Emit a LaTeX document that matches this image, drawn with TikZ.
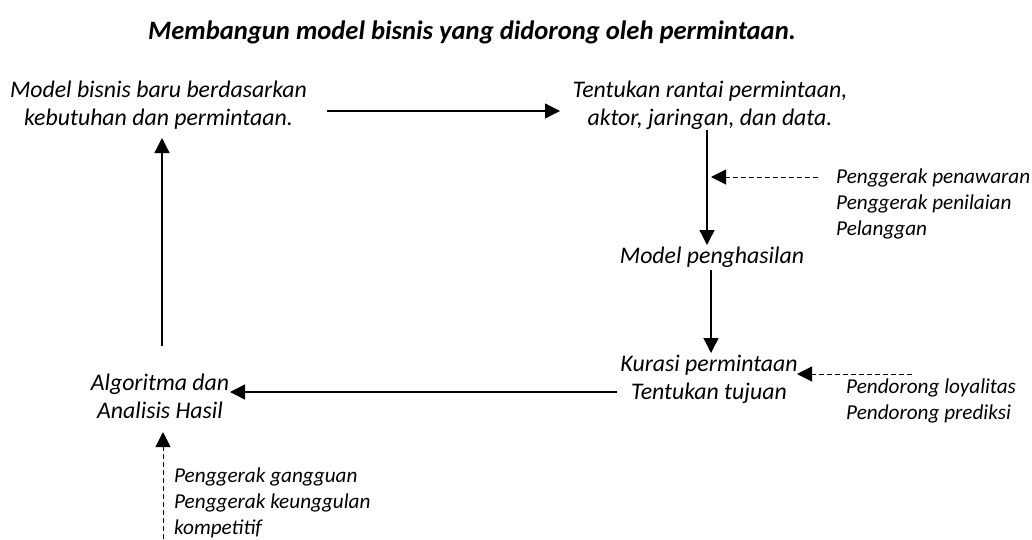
\documentclass[tikz,border=0pt]{standalone}
\usepackage{fontspec}
\setmainfont{Carlito}
\usetikzlibrary{arrows.meta,calc}
\begin{document}
\begin{tikzpicture}[x=1pt,y=-1pt,
  lbl/.style={font=\itshape\fontsize{23.8}{28}\selectfont, align=center, inner sep=0pt},
  drv/.style={font=\itshape\fontsize{21.2}{26}\selectfont, align=left, inner sep=0pt, anchor=west},
  flow/.style={-{Triangle[length=15pt,width=15pt]}, line width=1.3pt},
  feed/.style={-{Triangle[length=15pt,width=15pt]}, line width=1pt, dash pattern=on 5pt off 3pt}]
\useasboundingbox (0,0) rectangle (1032,539);

% title
\node[font=\bfseries\itshape\fontsize{26.6}{30}\selectfont, inner sep=0pt] (title) at (472,32)
  {Membangun model bisnis yang didorong oleh permintaan.};

% main steps
\node[lbl] (A) at (158.5,105) {Model bisnis baru berdasarkan\\kebutuhan dan permintaan.};
\node[lbl] (B) at (710,105) {Tentukan rantai permintaan,\\aktor, jaringan, dan data.};
\node[lbl] (C) at (712,257) {Model penghasilan};
\node[lbl] (D) at (709,379) {Kurasi permintaan\\Tentukan tujuan};
\node[lbl] (E) at (160,396) {Algoritma dan\\Analisis Hasil};

% driver lists
\node[drv] (P1) at (836,204) {Penggerak penawaran\\Penggerak penilaian\\Pelanggan};
\node[drv] (P2) at (846,401) {Pendorong loyalitas\\Pendorong prediksi};
\node[drv] (P3) at (174,503) {Penggerak gangguan\\Penggerak keunggulan\\kompetitif};

% free ends of the dashed feeds
\coordinate (f1) at (818,177);
\coordinate (f2) at (912,374);
\coordinate (f3) at (163,539);

% main cycle
\draw[flow] ($(A.center)+(168.5,6)$) -- ($(B.center)+(-150,6)$);
\draw[flow] ($(B.center)+(-3,25)$) -- ($(C.center)+(-5,-12)$);
\draw[flow] ($(C.center)+(-1,13)$) -- ($(D.center)+(2,-26)$);
\draw[flow] ($(D.center)+(-92,13)$) -- ($(E.center)+(70,-4)$);
\draw[flow] ($(E.center)+(2,-50)$) -- ($(A.center)+(3.5,33)$);

% dashed feeds
\draw[feed] (f1) -- ($(f1 -| B.center)+(1,0)$);
\draw[feed] (f2) -- ($(f2 -| D.center)+(88,0)$);
\draw[feed] (f3) -- ($(f3 |- E.center)+(0,36)$);
\end{tikzpicture}
\end{document}
